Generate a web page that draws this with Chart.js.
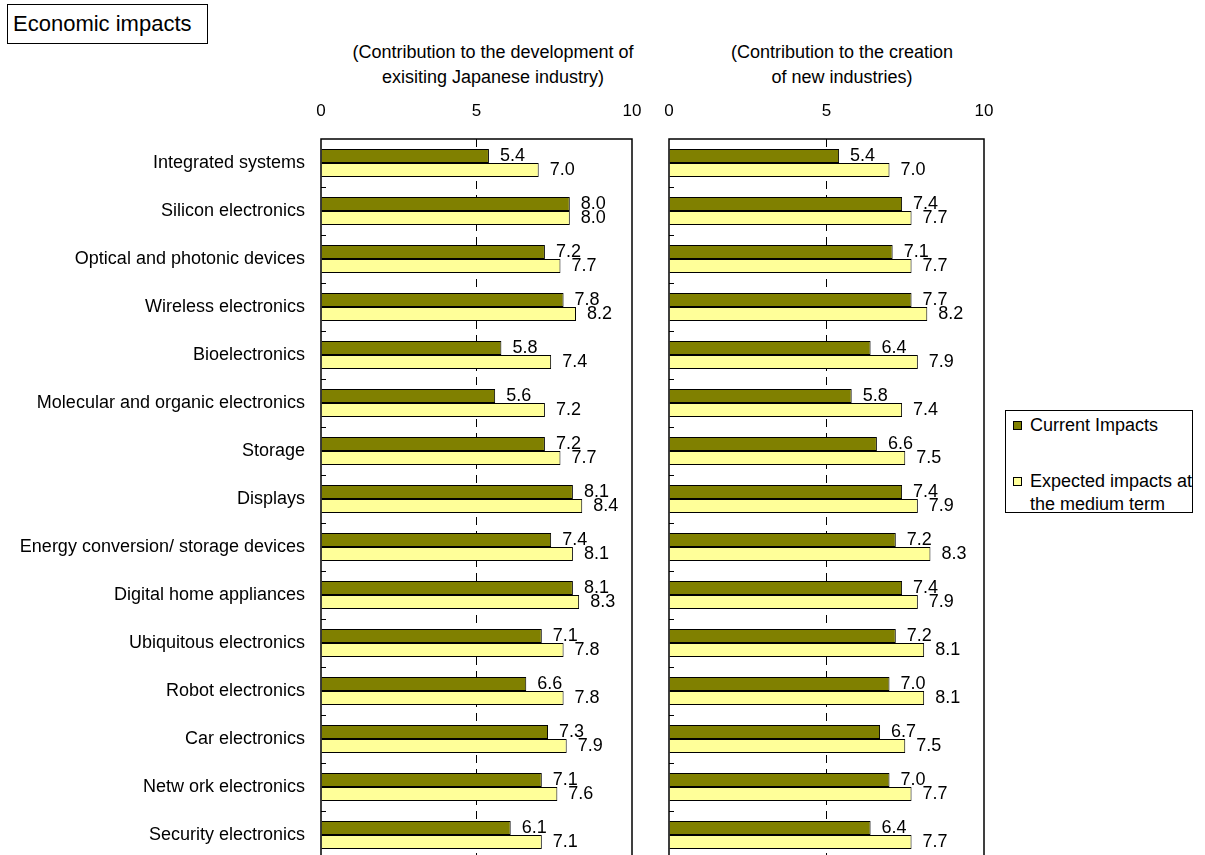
<!DOCTYPE html>
<html>
<head>
<meta charset="utf-8">
<script src="https://cdn.jsdelivr.net/npm/chart.js@4.4.1/dist/chart.umd.min.js"></script>
<style>
  body { margin: 0; width: 1205px; height: 855px; overflow: hidden; background: #fff; position: relative;
         font-family: "Liberation Sans", Arial, sans-serif; color: #000; }
  .abs { position: absolute; box-sizing: border-box; }
  #title { left: 7px; top: 4px; width: 201px; height: 40px; border: 1px solid #000; font-size: 22px; line-height: 38px; padding-left: 5px; }
  .sub { font-size: 18px; line-height: 25px; text-align: center; width: 360px; top: 40px; }
  #leftChart { left: 0; top: 0; }
  #rightChart { left: 650px; top: 0; }
  #legend { left: 1005px; top: 410px; width: 188px; height: 103px; border: 1px solid #000; font-size: 18px; line-height: 23px; }
  .item { position: absolute; left: 0; width: 190px; }
  .sw { position: absolute; left: 7px; width: 9px; height: 9px; border: 1px solid #000; box-sizing: border-box; }
  .txt { position: absolute; left: 24px; width: 166px; }
</style>
</head>
<body>
<div id="title" class="abs">Economic impacts</div>
<div class="abs sub" style="left:313px">(Contribution to the development of<br>exisiting Japanese industry)</div>
<div class="abs sub" style="left:662px">(Contribution to the creation<br>of new industries)</div>
<canvas id="leftChart" class="abs" width="650" height="880"></canvas>
<canvas id="rightChart" class="abs" width="350" height="880"></canvas>
<div id="legend" class="abs"></div>
<script>
const categories = [
  'Integrated systems', 'Silicon electronics', 'Optical and photonic devices', 'Wireless electronics',
  'Bioelectronics', 'Molecular and organic electronics', 'Storage', 'Displays',
  'Energy conversion/ storage devices', 'Digital home appliances', 'Ubiquitous electronics',
  'Robot electronics', 'Car electronics', 'Netw ork electronics', 'Security electronics'
];
const seriesNames = ['Current Impacts', 'Expected impacts at the medium term'];
const seriesColors = ['#808000', '#FFFF99'];

// left panel: existing Japanese industry
const existingCurrent  = [5.4, 8.0, 7.2, 7.8, 5.8, 5.6, 7.2, 8.1, 7.4, 8.1, 7.1, 6.6, 7.3, 7.1, 6.1];
const existingExpected = [7.0, 8.0, 7.7, 8.2, 7.4, 7.2, 7.7, 8.4, 8.1, 8.3, 7.8, 7.8, 7.9, 7.6, 7.1];
// right panel: new industries
const newCurrent  = [5.4, 7.4, 7.1, 7.7, 6.4, 5.8, 6.6, 7.4, 7.2, 7.4, 7.2, 7.0, 6.7, 7.0, 6.4];
const newExpected = [7.0, 7.7, 7.7, 8.2, 7.9, 7.4, 7.5, 7.9, 8.3, 7.9, 8.1, 8.1, 7.5, 7.7, 7.7];

const xMin = 0, xMax = 10, xStep = 5;
const family = '"Liberation Sans", Arial, sans-serif';

// value labels, plot frame and the small inner ticks on the category axis
const frameAndLabels = {
  id: 'frameAndLabels',
  afterDatasetsDraw(chart) {
    const { ctx, chartArea: a, scales: { y } } = chart;
    ctx.save();
    ctx.font = '18px ' + family;
    ctx.fillStyle = '#000';
    ctx.textAlign = 'left';
    ctx.textBaseline = 'middle';
    chart.data.datasets.forEach((ds, di) => {
      chart.getDatasetMeta(di).data.forEach((bar, i) => {
        ctx.fillText(ds.data[i].toFixed(1), bar.x + 11, bar.y);
      });
    });
    ctx.strokeStyle = '#000';
    ctx.lineWidth = 1.5;
    ctx.strokeRect(a.left, a.top, a.right - a.left, a.bottom - a.top);
    ctx.lineWidth = 1;
    for (let i = 1; i < chart.data.labels.length; i++) {
      const yy = Math.round((y.getPixelForValue(i - 1) + y.getPixelForValue(i)) / 2) + 0.5;
      ctx.beginPath();
      ctx.moveTo(a.left, yy);
      ctx.lineTo(a.left + 5, yy);
      ctx.stroke();
    }
    ctx.restore();
  }
};

function makeChart(id, current, expected, showLabels, padding) {
  const values = [current, expected];
  return new Chart(document.getElementById(id), {
    type: 'bar',
    data: {
      labels: categories,
      datasets: seriesNames.map((name, k) => ({
        label: name,
        data: values[k],
        backgroundColor: seriesColors[k],
        borderColor: '#000',
        borderWidth: 1,
        categoryPercentage: 0.58,
        barPercentage: 1.0
      }))
    },
    options: {
      indexAxis: 'y',
      responsive: false,
      animation: false,
      layout: { padding },
      plugins: { legend: { display: false }, tooltip: { enabled: false } },
      scales: {
        x: {
          position: 'top',
          min: xMin, max: xMax,
          ticks: { stepSize: xStep, padding: 17, color: '#000', font: { size: 17, family } },
          grid: {
            color: c => (c.tick && c.tick.value === 5 ? '#000' : 'rgba(0,0,0,0)'),
            drawTicks: false, lineWidth: 1
          },
          border: { display: false, dash: [8, 6] },
          afterFit: s => { s.height = 139; s.paddingLeft = 0; s.paddingRight = 0; }
        },
        y: {
          ticks: { display: showLabels, padding: 16, color: '#000', font: { size: 18, family } },
          grid: { display: false, drawTicks: false },
          border: { display: false },
          afterFit: s => { s.width = showLabels ? 321 : 0; s.paddingTop = 0; s.paddingBottom = 0; }
        }
      }
    },
    plugins: [frameAndLabels]
  });
}

const leftChart = makeChart('leftChart', existingCurrent, existingExpected, true, { top: 0, right: 18, bottom: 21, left: 0 });
const rightChart = makeChart('rightChart', newCurrent, newExpected, false, { top: 0, right: 16, bottom: 21, left: 19 });

// legend built from the chart's own datasets
const legendBox = document.getElementById('legend');
const itemTops = [3, 59];
leftChart.data.datasets.forEach((ds, i) => {
  const item = document.createElement('div');
  item.className = 'item';
  item.style.top = itemTops[i] + 'px';
  item.innerHTML = '<div class="sw" style="top:7px;background:' + ds.backgroundColor + '"></div><div class="txt"></div>';
  item.querySelector('.txt').textContent = ds.label;
  legendBox.appendChild(item);
});
</script>
</body>
</html>
